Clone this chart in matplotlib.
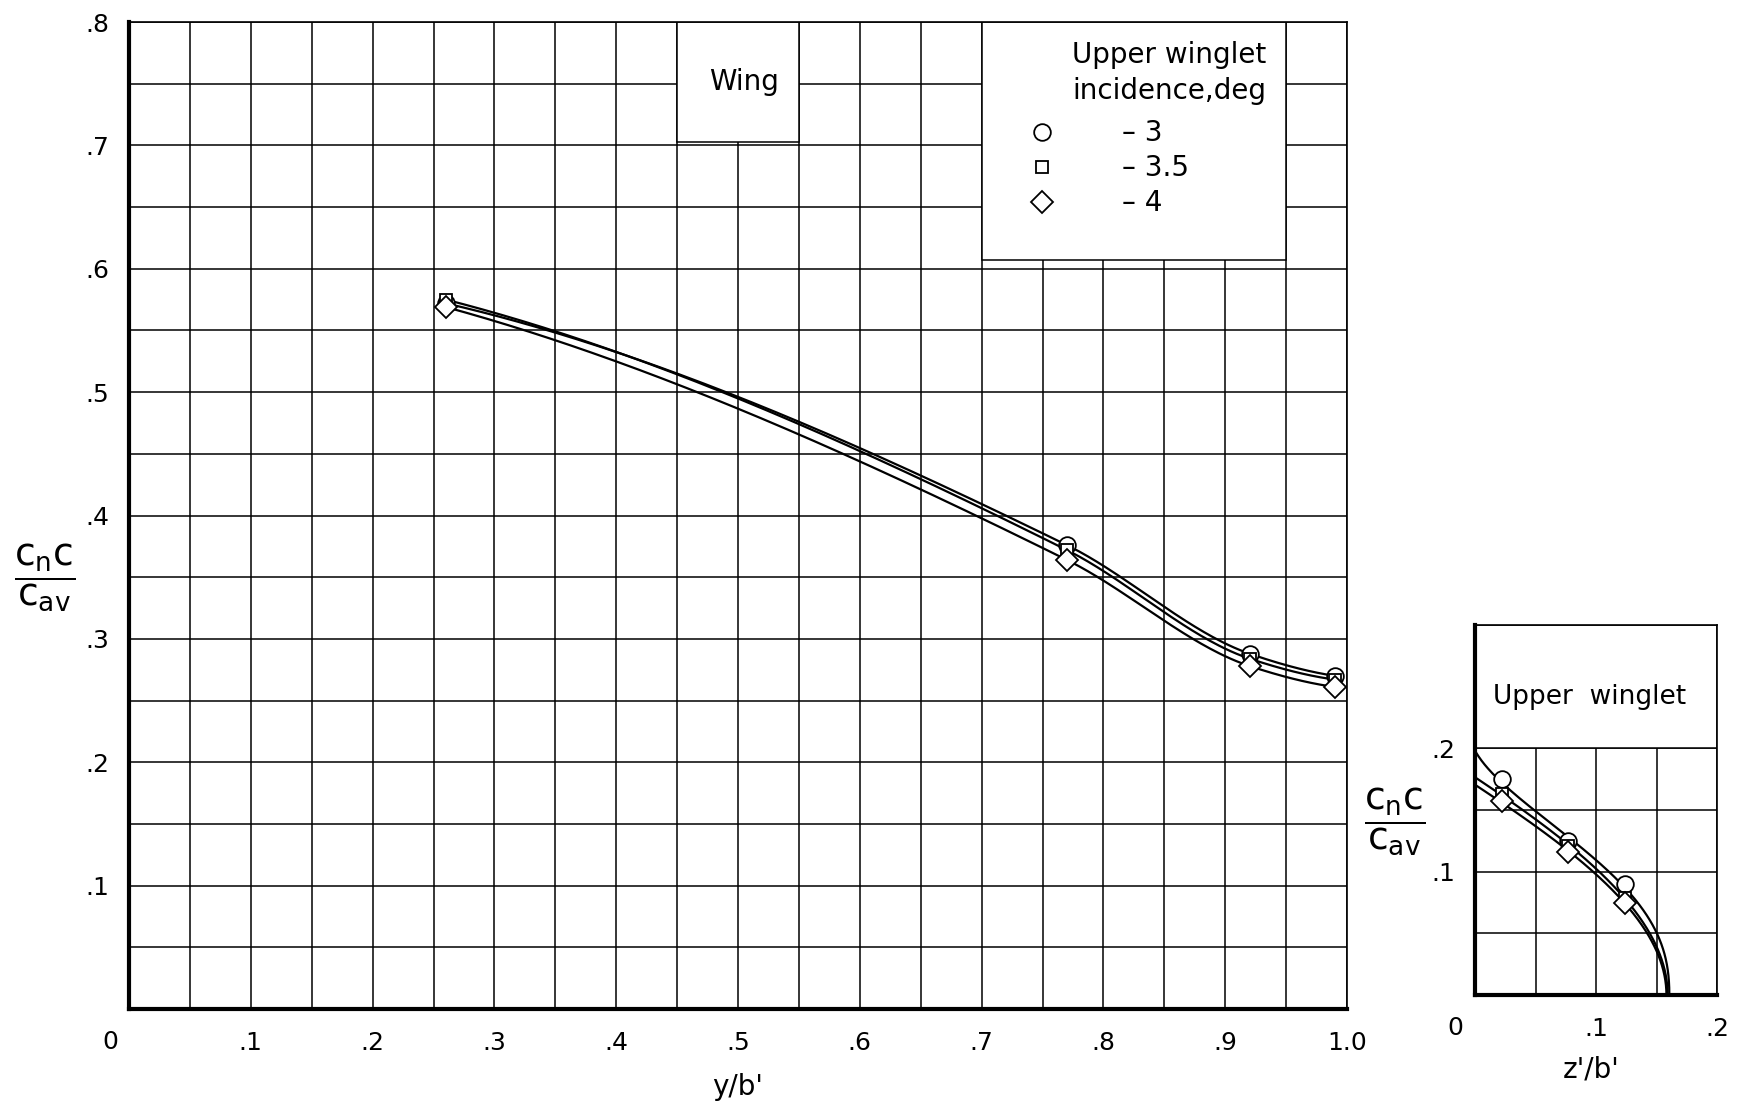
import numpy as np
import matplotlib
matplotlib.use("Agg")
import matplotlib.pyplot as plt
from matplotlib.patches import Rectangle

plt.rcParams['font.family'] = ['DejaVu Sans']
plt.rcParams['mathtext.fontset'] = 'dejavusans'

# ---------------- data ----------------
wing_y = [0.26, 0.77, 0.92, 0.99]
wing_cn_m3 = [0.572, 0.376, 0.288, 0.270]
wing_cn_m35 = [0.575, 0.372, 0.284, 0.267]
wing_cn_m4 = [0.569, 0.364, 0.278, 0.261]

winglet_z = [0.022, 0.077, 0.124]
winglet_cn_m3 = [0.175, 0.125, 0.090]
winglet_cn_m35 = [0.163, 0.121, 0.079]
winglet_cn_m4 = [0.157, 0.116, 0.075]
# faired-curve end values
winglet_root_cn = [0.196, 0.176, 0.170]   # value at z'/b' = 0
winglet_tip_z = [0.160, 0.159, 0.158]     # where the curve reaches zero

incidence_labels = ['\u2013 3', '\u2013 3.5', '\u2013 4']
wing_x_ticks = [0.1, 0.2, 0.3, 0.4, 0.5, 0.6, 0.7, 0.8, 0.9, 1.0]
wing_x_labels = ['.1', '.2', '.3', '.4', '.5', '.6', '.7', '.8', '.9', '1.0']
wing_y_ticks = [0.1, 0.2, 0.3, 0.4, 0.5, 0.6, 0.7, 0.8]
wing_y_labels = ['.1', '.2', '.3', '.4', '.5', '.6', '.7', '.8']
winglet_x_ticks = [0.1, 0.2]
winglet_x_labels = ['.1', '.2']
winglet_y_ticks = [0.1, 0.2]
winglet_y_labels = ['.1', '.2']

wing_series = [wing_cn_m3, wing_cn_m35, wing_cn_m4]
winglet_series = [winglet_cn_m3, winglet_cn_m35, winglet_cn_m4]
markers = ['o', 's', 'D']
msizes = [12, 9, 11]


def pchip(x, y, xs):
    """Monotone piecewise-cubic Hermite fairing through the points."""
    x = np.asarray(x, float)
    y = np.asarray(y, float)
    h = np.diff(x)
    d = np.diff(y) / h
    n = len(x)
    m = np.zeros(n)
    for k in range(1, n - 1):
        if d[k - 1] * d[k] > 0:
            w1 = 2 * h[k] + h[k - 1]
            w2 = h[k] + 2 * h[k - 1]
            m[k] = (w1 + w2) / (w1 / d[k - 1] + w2 / d[k])
    m0 = ((2 * h[0] + h[1]) * d[0] - h[0] * d[1]) / (h[0] + h[1])
    if np.sign(m0) != np.sign(d[0]):
        m0 = 0.0
    m[0] = m0
    mn = ((2 * h[-1] + h[-2]) * d[-1] - h[-1] * d[-2]) / (h[-1] + h[-2])
    if np.sign(mn) != np.sign(d[-1]):
        mn = 0.0
    m[-1] = mn
    out = np.empty_like(xs)
    idx = np.clip(np.searchsorted(x, xs) - 1, 0, n - 2)
    for i, xv in enumerate(xs):
        k = idx[i]
        t = (xv - x[k]) / h[k]
        h00 = 2 * t**3 - 3 * t**2 + 1
        h10 = t**3 - 2 * t**2 + t
        h01 = -2 * t**3 + 3 * t**2
        h11 = t**3 - t**2
        out[i] = h00 * y[k] + h10 * h[k] * m[k] + h01 * y[k + 1] + h11 * h[k] * m[k + 1]
    return out


W, H = 1739, 1111
fig = plt.figure(figsize=(W / 100, H / 100), dpi=100)
fig.patch.set_facecolor('white')

TICKFS = 18
LABFS = 20
FRACFS = 27


def style_axes(ax, xmax, ymax):
    ax.set_xlim(0, xmax)
    ax.set_ylim(0, ymax)
    ax.set_xticks(np.arange(0, xmax + 1e-9, 0.05), minor=True)
    ax.set_yticks(np.arange(0, ymax + 1e-9, 0.05), minor=True)
    ax.grid(which='both', color='black', lw=1.1)
    ax.set_axisbelow(True)
    ax.tick_params(which='both', length=0, labelsize=TICKFS)
    ax.tick_params(axis='y', pad=14)
    ax.tick_params(axis='x', pad=16)
    for s in ['left', 'bottom']:
        ax.spines[s].set_linewidth(3.0)
    for s in ['top', 'right']:
        ax.spines[s].set_linewidth(1.2)


# ---------------- main wing panel ----------------
ax = fig.add_axes([129 / W, (H - 1009) / H, 1218 / W, 987 / H])
style_axes(ax, 1.0, 0.8)
ax.set_xticks(wing_x_ticks)
ax.set_xticklabels(wing_x_labels)
ax.set_yticks(wing_y_ticks)
ax.set_yticklabels(wing_y_labels)
ax.text(-0.015, -0.033, '0', transform=ax.transAxes, ha='center', va='center',
        fontsize=TICKFS)

ax.add_patch(Rectangle((0.45, 0.703), 0.10, 0.097, facecolor='white',
                       edgecolor='black', lw=1.1, zorder=2))
ax.add_patch(Rectangle((0.70, 0.607), 0.25, 0.193, facecolor='white',
                       edgecolor='black', lw=1.1, zorder=2))
ax.text(0.505, 0.751, 'Wing', ha='center', va='center', fontsize=LABFS, zorder=5)

for vals, m, ms, lab in zip(wing_series, markers, msizes, incidence_labels):
    xs = np.linspace(wing_y[0], wing_y[-1], 300)
    ax.plot(xs, pchip(wing_y, vals, xs), color='black', lw=1.6, zorder=3)
    ax.plot(wing_y, vals, linestyle='none', marker=m, ms=ms, mfc='white',
            mec='black', mew=1.3, zorder=4, label=lab)

ax.text(0.934, 0.7585, 'Upper winglet\nincidence,deg', ha='right', va='center',
        multialignment='right', linespacing=1.37, fontsize=LABFS, zorder=6)
leg = ax.legend(loc='upper left', bbox_to_anchor=(0.738, 0.721),
                bbox_transform=ax.transData, frameon=False, fontsize=LABFS,
                borderpad=0, borderaxespad=0, handletextpad=2.4,
                labelspacing=0.25, handlelength=1.0)
leg.set_zorder(6)

ax.text(0.5, -0.079, "y/b'", transform=ax.transAxes, ha='center', va='center',
        fontsize=LABFS)
ax.text(-0.069, 0.437, r'$\dfrac{\mathregular{c_nc}}{\mathregular{c_{av}}}$',
        transform=ax.transAxes, ha='center', va='center', fontsize=FRACFS)

# ---------------- upper winglet panel ----------------
ax2 = fig.add_axes([1475 / W, (H - 995) / H, 242 / W, 370 / H])
style_axes(ax2, 0.2, 0.3)
ax2.set_xticks(winglet_x_ticks)
ax2.set_xticklabels(winglet_x_labels)
ax2.set_yticks(winglet_y_ticks)
ax2.set_yticklabels(winglet_y_labels)
ax2.text(-0.08, -0.09, '0', transform=ax2.transAxes, ha='center', va='center',
         fontsize=TICKFS)
ax2.add_patch(Rectangle((0.0, 0.2), 0.2, 0.1, facecolor='white',
                        edgecolor='black', lw=1.1, zorder=2))
ax2.text(0.095, 0.242, 'Upper  winglet', ha='center', va='center',
         fontsize=19, zorder=5)

for vals, root, tip, m, ms in zip(winglet_series, winglet_root_cn, winglet_tip_z,
                                  markers, msizes):
    yy = np.array([0.0] + list(vals[::-1]) + [root])
    xx = np.array([tip] + list(winglet_z[::-1]) + [0.0])
    A = np.vstack([np.ones_like(yy), yy ** 2, yy ** 3, yy ** 4]).T
    c = np.linalg.lstsq(A, xx, rcond=None)[0]
    ys = np.linspace(0, root, 300)
    xs = c[0] + c[1] * ys ** 2 + c[2] * ys ** 3 + c[3] * ys ** 4
    keep = xs >= 0
    ax2.plot(xs[keep], ys[keep], color='black', lw=1.6, zorder=3)
    ax2.plot(winglet_z, vals, linestyle='none', marker=m, ms=ms, mfc='white',
             mec='black', mew=1.3, zorder=4)

ax2.text(0.48, -0.2, "z'/b'", transform=ax2.transAxes, ha='center', va='center',
         fontsize=LABFS)
ax2.text(-0.33, 0.47, r'$\dfrac{\mathregular{c_nc}}{\mathregular{c_{av}}}$',
         transform=ax2.transAxes, ha='center', va='center', fontsize=FRACFS)

fig.savefig('out.png', dpi=100, facecolor='white')
